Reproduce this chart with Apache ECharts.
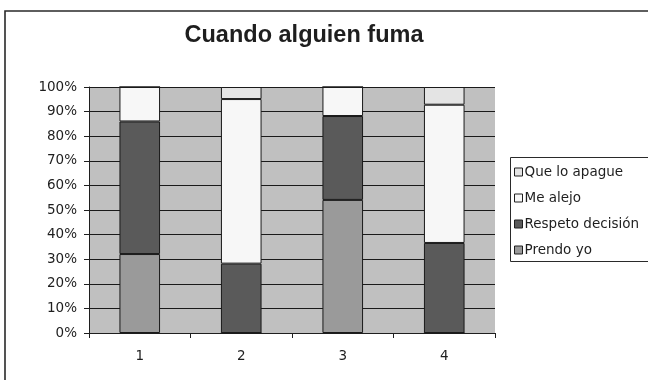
<!DOCTYPE html>
<html>
<head>
<meta charset="utf-8">
<script src="https://cdn.jsdelivr.net/npm/echarts@6/dist/echarts.min.js"></script>
<style>
  html, body { margin: 0; padding: 0; background: #ffffff; }
  #chart { width: 648px; height: 380px; }
</style>
</head>
<body>
<div id="chart"></div>
<script>
// Survey: what people do when someone smokes (share of answers per group, %)
const categories = ['1', '2', '3', '4'];
const prendoYo = [32.1, 0, 54.1, 0];
const respetoDecision = [53.9, 28.2, 34.1, 36.6];
const meAlejo = [14.0, 66.9, 11.8, 56.2];
const queLoApague = [0, 4.9, 0, 7.2];
const yTicks = [0, 10, 20, 30, 40, 50, 60, 70, 80, 90, 100];

const seriesDefs = [
  { name: 'Prendo yo', data: prendoYo, color: '#9a9a9a' },
  { name: 'Respeto decisión', data: respetoDecision, color: '#5a5a5a' },
  { name: 'Me alejo', data: meAlejo, color: '#f7f7f7' },
  { name: 'Que lo apague', data: queLoApague, color: '#e4e4e4' }
];

const ink = '#1e1e1e';
const smallFont = { fontFamily: 'DejaVu Sans', fontSize: 13.5, color: ink };

const chart = echarts.init(document.getElementById('chart'), null, { renderer: 'canvas' });

chart.setOption({
  animation: false,
  backgroundColor: '#ffffff',
  title: {
    text: 'Cuando alguien fuma',
    left: 299,
    textAlign: 'center',
    top: 19,
    textStyle: {
      fontFamily: 'Liberation Sans',
      fontWeight: 'bold',
      fontSize: 23.5,
      color: ink
    }
  },
  graphic: [
    {
      type: 'rect',
      shape: { x: 5, y: 11, width: 700, height: 420 },
      style: { fill: 'none', stroke: '#2a2a2a', lineWidth: 1.6 },
      silent: true
    },
    {
      type: 'rect',
      shape: { x: 510.5, y: 157.5, width: 200, height: 104 },
      style: { fill: '#ffffff', stroke: '#2a2a2a', lineWidth: 1 },
      silent: true,
      z: 0
    }
  ],
  legend: {
    orient: 'vertical',
    left: 514,
    top: 164,
    padding: 0,
    itemGap: 10,
    itemWidth: 8,
    itemHeight: 8,
    icon: 'rect',
    data: ['Que lo apague', 'Me alejo', 'Respeto decisión', 'Prendo yo'],
    itemStyle: { borderColor: '#1e1e1e', borderWidth: 1 },
    textStyle: Object.assign({ lineHeight: 16, padding: [0, 0, 0, -3] }, smallFont),
    z: 5
  },
  grid: {
    left: 89,
    right: 153,
    top: 87,
    bottom: 47,
    show: true,
    backgroundColor: '#c0c0c0',
    borderWidth: 0
  },
  xAxis: {
    type: 'category',
    data: categories,
    axisLine: { show: true, lineStyle: { color: ink, width: 1 } },
    axisTick: { show: true, length: 5, interval: 0, lineStyle: { color: ink } },
    axisLabel: Object.assign({ margin: 16 }, smallFont),
    splitLine: { show: false }
  },
  yAxis: {
    type: 'value',
    min: yTicks[0],
    max: yTicks[yTicks.length - 1],
    interval: 10,
    axisLine: { show: true, lineStyle: { color: ink, width: 1 } },
    axisTick: { show: true, length: 5, lineStyle: { color: ink } },
    axisLabel: Object.assign({ margin: 12, formatter: '{value}%' }, smallFont),
    splitLine: { show: true, lineStyle: { color: '#1a1a1a', width: 1 } }
  },
  series: seriesDefs.map(s => ({
    name: s.name,
    type: 'bar',
    stack: 'total',
    barWidth: '40%',
    data: s.data,
    itemStyle: { color: s.color, borderColor: '#1a1a1a', borderWidth: 1 }
  }))
});
</script>
</body>
</html>
